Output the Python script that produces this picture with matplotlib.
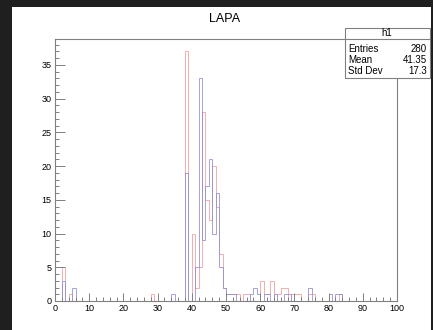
import numpy as np
import matplotlib.pyplot as plt
from matplotlib.patches import Rectangle
from matplotlib.ticker import MultipleLocator
from matplotlib.lines import Line2D

plt.rcParams['font.family'] = ['Liberation Sans', 'DejaVu Sans']

# bin contents, 100 bins of width 1 on [0, 100)
red_bins = {2: 5, 4: 1, 28: 1,
            38: 37, 40: 10, 41: 2, 42: 5, 43: 28, 44: 15, 45: 12, 46: 20,
            47: 14, 48: 7, 49: 2, 50: 1, 51: 1, 52: 1, 53: 1, 55: 1, 56: 1,
            60: 3, 61: 1, 62: 1, 63: 3, 65: 1, 66: 2, 67: 2, 69: 1, 70: 1,
            71: 1, 74: 1, 75: 1, 83: 1}
blue_bins = {2: 3, 5: 2, 34: 1,
             38: 19, 41: 5, 42: 33, 43: 9, 44: 17, 45: 21, 46: 10, 47: 16,
             48: 5, 49: 2, 50: 1, 51: 1, 52: 1, 57: 1, 58: 2, 59: 1, 61: 1,
             62: 1, 64: 1, 67: 1, 68: 1, 74: 2, 80: 1, 82: 1, 83: 1}

title = "LAPA"
stat_name = "h1"
stat_rows = [("Entries", "280"), ("Mean", "41.35"), ("Std Dev", "17.3")]

edges = np.arange(0, 101)
red = np.zeros(100)
blue = np.zeros(100)
for k, v in red_bins.items():
    red[k] = v
for k, v in blue_bins.items():
    blue[k] = v

W, H = 433, 330
fig = plt.figure(figsize=(W / 100, H / 100), dpi=100, facecolor='#1f1f1f')


def fx(x):
    return x / W


def fy(y):
    return 1 - y / H


# white canvas behind everything
fig.patches.append(Rectangle((fx(12), 0), fx(431) - fx(12), fy(7),
                             transform=fig.transFigure, facecolor='white',
                             edgecolor='none', zorder=-10))

ax = fig.add_axes([fx(55), fy(301), fx(397) - fx(55), fy(39) - fy(301)])
ax.set_facecolor('white')

ax.stairs(red, edges, color='#f29a9a', lw=0.7, alpha=0.8)
ax.stairs(blue, edges, color='#8c8cd6', lw=0.7, alpha=0.8)

ymax = 1.05 * max(red.max(), blue.max())
ax.set_xlim(0, 100)
ax.set_ylim(0, ymax)

frame = '#808080'
for s in ax.spines.values():
    s.set_color(frame)
    s.set_linewidth(0.8)

ax.xaxis.set_major_locator(MultipleLocator(10))
ax.xaxis.set_minor_locator(MultipleLocator(2))
ax.yaxis.set_major_locator(MultipleLocator(5))
ax.yaxis.set_minor_locator(MultipleLocator(1))
ax.tick_params(axis='x', which='major', direction='in', length=5.8,
               width=0.7, color=frame, labelsize=6.5, pad=2.5)
ax.tick_params(axis='x', which='minor', direction='in', length=2.9,
               width=0.7, color=frame)
ax.tick_params(axis='y', which='major', direction='in', length=7.2,
               width=0.7, color=frame, labelsize=6.5, pad=2.5)
ax.tick_params(axis='y', which='minor', direction='in', length=2.9,
               width=0.7, color=frame)

fig.text(fx(225), fy(19), title, ha='center', va='center', fontsize=9)

# stats box
bx0, by0, bx1, by1 = 345, 28, 430, 78
fig.patches.append(Rectangle((fx(bx0), fy(by1)), fx(bx1) - fx(bx0),
                             fy(by0) - fy(by1), transform=fig.transFigure,
                             facecolor='white', edgecolor=frame, lw=0.8,
                             zorder=5))
fig.lines.append(Line2D([fx(bx0), fx(bx1)], [fy(39), fy(39)],
                        transform=fig.transFigure, color=frame, lw=0.8,
                        zorder=6))
fig.text(fx(387), fy(33.5), stat_name, ha='center', va='center',
         fontsize=7, zorder=7)
for i, (name, val) in enumerate(stat_rows):
    y = 49 + i * 10.8
    fig.text(fx(348), fy(y), name, ha='left', va='center', fontsize=7,
             zorder=7)
    fig.text(fx(427), fy(y), val, ha='right', va='center', fontsize=7,
             zorder=7)

fig.savefig('out.png', dpi=100, facecolor=fig.get_facecolor())
